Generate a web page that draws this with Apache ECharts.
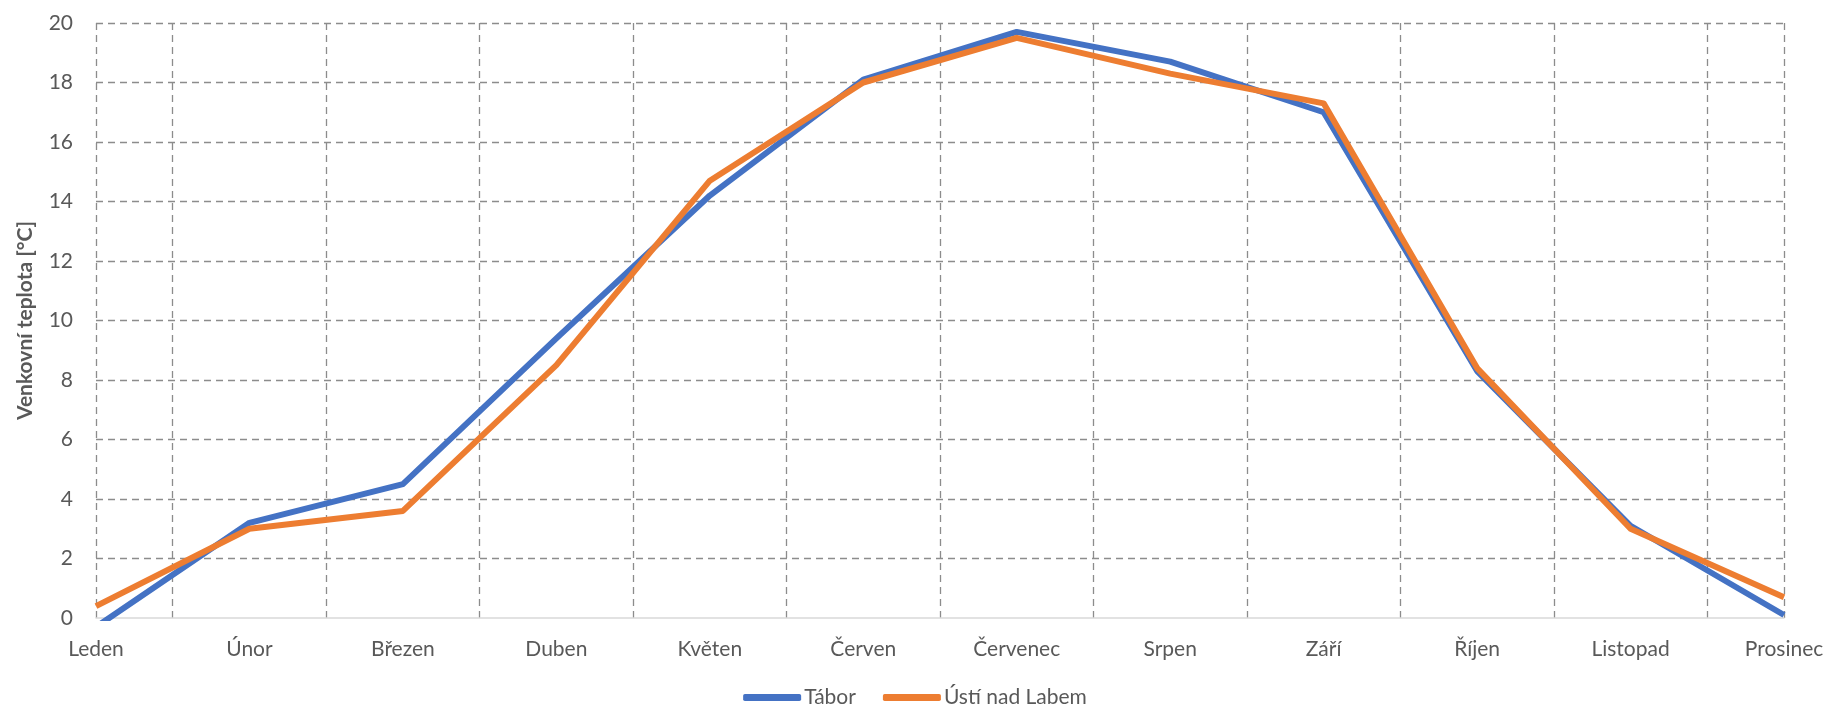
<!DOCTYPE html>
<html>
<head>
<meta charset="utf-8">
<script src="https://cdn.jsdelivr.net/npm/echarts@6/dist/echarts.min.js"></script>
<style>
  html, body { margin: 0; padding: 0; background: #fff; }
  #chart { width: 1830px; height: 714px; }
</style>
</head>
<body>
<div id="chart"></div>
<script>
// Monthly mean outdoor temperature for two Czech towns
const months = ['Leden', 'Únor', 'Březen', 'Duben', 'Květen', 'Červen',
                'Červenec', 'Srpen', 'Září', 'Říjen', 'Listopad', 'Prosinec'];
const tabor = [-0.3, 3.2, 4.5, 9.4, 14.2, 18.1, 19.7, 18.7, 17.0, 8.3, 3.1, 0.1];
const ustiNadLabem = [0.4, 3.0, 3.6, 8.5, 14.7, 18.0, 19.5, 18.3, 17.3, 8.4, 3.0, 0.7];
const seriesNames = ['Tábor', 'Ústí nad Labem'];
const yTitle = 'Venkovní teplota [°C]';

// Half-month positions used only to place the vertical grid lines
// between the months (plus the two plot edges).
const halfSteps = [];
for (let i = 0; i <= (months.length - 1) * 2; i++) halfSteps.push(String(i / 2));

const textColor = '#595959';
const gridColor = '#8c8c8c';
const fontFamily = 'Lato, "Open Sans", sans-serif';
const fontSize = 21;

const chart = echarts.init(document.getElementById('chart'), null, { renderer: 'canvas' });

chart.setOption({
  animation: false,
  color: ['#4472C4', '#ED7D31'],
  textStyle: { fontFamily: fontFamily },
  grid: { left: 96, right: 46, top: 23, bottom: 96, containLabel: false },
  legend: {
    data: seriesNames,
    left: 'center',
    bottom: 1,
    icon: 'roundRect',
    itemWidth: 58,
    itemHeight: 7,
    itemGap: 27,
    textStyle: { color: textColor, fontSize: fontSize, fontFamily: fontFamily, padding: [0, 0, 0, -2] }
  },
  xAxis: [
    {
      type: 'category',
      data: months,
      boundaryGap: false,
      axisLine: { show: true, lineStyle: { color: '#d9d9d9', width: 1.5 } },
      axisTick: { show: false },
      splitLine: { show: false },
      axisLabel: { color: textColor, fontSize: fontSize, margin: 21, fontFamily: fontFamily }
    },
    {
      type: 'category',
      data: halfSteps,
      boundaryGap: false,
      position: 'bottom',
      axisLine: { show: false },
      axisTick: { show: false },
      axisLabel: { show: false },
      splitLine: {
        show: true,
        interval: function (index) {
          return index === 0 || index === halfSteps.length - 1 || index % 2 === 1;
        },
        lineStyle: { color: gridColor, width: 1.3, type: [7, 5] }
      }
    }
  ],
  yAxis: {
    type: 'value',
    min: 0,
    max: 20,
    interval: 2,
    name: yTitle,
    nameLocation: 'middle',
    nameGap: 60,
    nameTextStyle: { color: textColor, fontSize: fontSize, fontWeight: 'bold', fontFamily: fontFamily },
    axisLine: { show: false },
    axisTick: { show: false },
    axisLabel: { color: textColor, fontSize: fontSize, margin: 23, fontFamily: fontFamily },
    splitLine: {
      show: true,
      showMinLine: false,
      lineStyle: { color: gridColor, width: 1.3, type: [7, 5] }
    }
  },
  series: [
    {
      name: seriesNames[0],
      type: 'line',
      data: tabor,
      xAxisIndex: 0,
      symbol: 'none',
      lineStyle: { width: 6, join: 'round' },
      z: 3
    },
    {
      name: seriesNames[1],
      type: 'line',
      data: ustiNadLabem,
      xAxisIndex: 0,
      symbol: 'none',
      lineStyle: { width: 6, join: 'round' },
      z: 4
    }
  ]
});
</script>
</body>
</html>
